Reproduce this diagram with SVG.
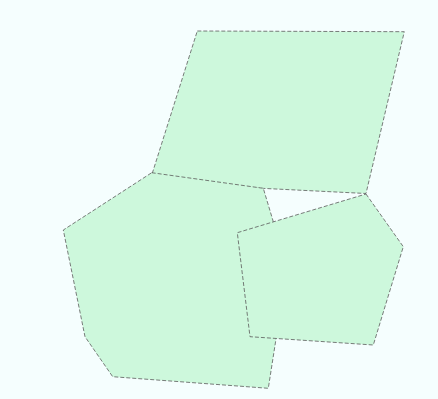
<svg xmlns="http://www.w3.org/2000/svg" width="438" height="399" viewBox="0 0 438 399">
<style>
.bg{fill:#f5fefe}
.poly{fill:#cdf8dc;stroke:#5a5a5a;stroke-width:0.8;stroke-dasharray:4 2;stroke-linejoin:miter}
</style>
<rect class="bg" x="0" y="0" width="438" height="399"/>
<g id="top"><polygon class="poly" points="197.3,31 404.3,31.7 366,193.5 149.3,182.7"/></g>
<g id="left"><polygon class="poly" points="151.7,172.7 263.3,188.3 273.3,221.7 287,268.5 268.3,388.3 112.7,376.7 85,336.7 63.3,230"/></g>
<g id="right"><polygon class="poly" points="366,194 403.3,246.7 373.3,345 250,336.7 237.3,232.7"/></g>
<g id="connectors"></g>
</svg>
